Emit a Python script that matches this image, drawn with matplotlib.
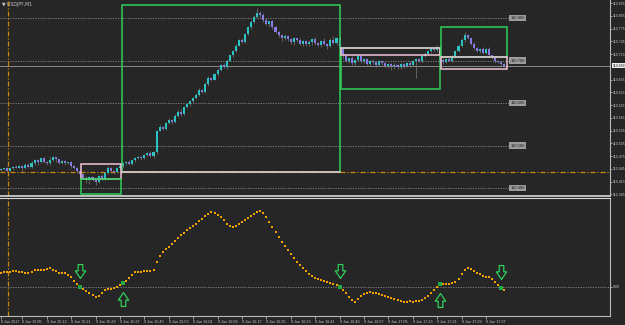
import matplotlib
matplotlib.use("Agg")
import matplotlib.pyplot as plt
from matplotlib.patches import Rectangle
from matplotlib.path import Path

# ---- data (USDJPY, M1, 9 Jun 2017) ----
closes = [
    110.445, 110.447, 110.441, 110.446,
    110.450, 110.448, 110.452, 110.446, 110.455, 110.449, 110.458,
    110.466, 110.461, 110.470, 110.462, 110.458, 110.465, 110.472, 110.468, 110.460, 110.464,
    110.458, 110.461, 110.452, 110.447, 110.440, 110.432,
    110.424, 110.418, 110.426, 110.421, 110.415, 110.428, 110.422,
    110.436, 110.448, 110.441, 110.438, 110.446, 110.452,
    110.458, 110.462, 110.456, 110.466, 110.470,
    110.474, 110.470, 110.478, 110.482, 110.476, 110.484,
    110.535,
    110.544, 110.540, 110.552, 110.561, 110.556,
    110.570, 110.578, 110.574, 110.590, 110.598, 110.604,
    110.612, 110.620, 110.630, 110.626, 110.645,
    110.660, 110.655, 110.668, 110.678, 110.690, 110.684, 110.700,
    110.712, 110.722, 110.735, 110.748, 110.744, 110.762,
    110.778, 110.790, 110.802, 110.812, 110.808, 110.795,
    110.786, 110.792, 110.778, 110.768, 110.760, 110.752,
    110.758, 110.750, 110.744, 110.752, 110.748, 110.740, 110.746, 110.738,
    110.744, 110.750, 110.742, 110.736, 110.746, 110.740, 110.734, 110.748, 110.742, 110.752, 110.730,
    110.712, 110.700, 110.706, 110.694, 110.702,
    110.710, 110.698, 110.704, 110.692, 110.700, 110.696, 110.690, 110.698, 110.694,
    110.688, 110.692, 110.686, 110.690, 110.684, 110.692, 110.688, 110.694, 110.690,
    110.698, 110.704, 110.700, 110.710, 110.716, 110.722, 110.728,
    110.724, 110.732, 110.702, 110.696, 110.704, 110.700, 110.710,
    110.722, 110.734, 110.748, 110.760, 110.752, 110.740, 110.730,
    110.722, 110.726, 110.718, 110.728, 110.712, 110.706,
    110.700, 110.696, 110.692, 110.688,
]
first_open = 110.443

# wicks in points of 0.001
wick_up = [
    2, 1, 3, 1, 2, 4, 1, 2, 3, 5,
    6, 2, 3, 1, 4, 2, 8, 3, 2, 1,
    2, 3, 1, 2, 1, 3, 2, 1, 4, 2,
    3, 1, 2, 6, 2, 3, 2, 1, 4, 2,
    3, 2, 4, 1, 3, 2, 1, 3, 2, 4,
    3, 2, 5, 2, 3, 4, 2, 3, 6, 9,
    2, 3, 4, 2, 3, 5, 2, 4, 3, 2,
    3, 5, 2, 3, 4, 2, 3, 5, 2, 4,
    3, 4, 6, 5, 12, 4, 3, 6, 2, 3,
    4, 2, 3, 5, 2, 4, 3, 2, 6, 3,
    2, 4, 3, 5, 2, 3, 6, 2, 4, 9,
    3, 5, 2, 3, 1, 4, 2, 3, 5, 2,
    3, 2, 4, 2, 3, 1, 2, 3, 2, 4,
    2, 3, 1, 2, 4, 3, 2, 3, 2, 4,
    3, 2, 4, 5, 2, 3, 2, 4, 3, 2,
    5, 4, 8, 3, 2, 4, 2, 3, 5, 2,
    3, 2, 4, 2, 3, 2,
]
wick_dn = [
    3, 2, 4, 2, 3, 1, 2, 5, 2, 3,
    2, 4, 8, 3, 2, 5, 3, 2, 6, 4,
    3, 5, 2, 6, 3, 4, 5, 3, 6, 8,
    4, 9, 3, 2, 4, 3, 2, 5, 3, 2,
    4, 3, 2, 3, 4, 2, 3, 2, 3, 4,
    6, 3, 2, 4, 3, 2, 5, 3, 2, 4,
    3, 2, 4, 3, 2, 4, 3, 2, 5, 3,
    2, 4, 3, 2, 3, 2, 4, 3, 2, 3,
    2, 3, 4, 2, 3, 5, 4, 3, 6, 4,
    3, 5, 6, 4, 3, 5, 8, 4, 3, 6,
    5, 4, 8, 6, 3, 5, 4, 7, 3, 4,
    6, 4, 8, 3, 5, 4, 6, 3, 5, 4,
    3, 5, 4, 6, 3, 5, 4, 6, 8, 5,
    4, 3, 5, 4, 6, 3, 40, 4, 3, 2,
    3, 4, 2, 3, 5, 4, 3, 2, 4, 3,
    2, 3, 4, 2, 3, 5, 3, 4, 2, 3,
    4, 3, 5, 3, 4, 3,
]

osc = [
    1.4, 1.5, 1.5, 1.5, 1.6, 1.6, 1.5, 1.5, 1.4, 1.4,
    1.5, 1.7, 1.7, 1.7, 1.7, 1.8, 1.9, 1.7, 1.6, 1.4,
    1.4, 1.4, 1.2, 1.0, 0.6, 0.3, 0.0, -0.2, -0.4, -0.6,
    -0.8, -1.0, -0.9, -0.6, -0.3, -0.2, -0.2, -0.1, 0.0, 0.2,
    0.4, 0.6, 0.9, 1.2, 1.5, 1.5, 1.5, 1.6, 1.6, 1.6,
    1.7, 2.5, 3.1, 3.5, 3.8, 4.0, 4.3, 4.6, 4.9, 5.2,
    5.4, 5.7, 5.9, 6.1, 6.3, 6.6, 6.8, 7.1, 7.3, 7.5,
    7.4, 7.2, 7.0, 6.7, 6.3, 6.1, 6.0, 6.1, 6.3, 6.5,
    6.7, 6.9, 7.1, 7.3, 7.5, 7.6, 7.4, 7.0, 6.5, 6.0,
    5.5, 5.0, 4.5, 4.1, 3.7, 3.3, 2.9, 2.5, 2.2, 1.9,
    1.6, 1.3, 1.1, 0.9, 0.8, 0.7, 0.6, 0.5, 0.4, 0.3,
    0.2, 0.0, -0.3, -0.6, -1.0, -1.3, -1.5, -1.2, -0.9, -0.7,
    -0.6, -0.5, -0.6, -0.6, -0.7, -0.8, -0.9, -1.0, -1.1, -1.2,
    -1.3, -1.4, -1.5, -1.5, -1.4, -1.5, -1.4, -1.4, -1.3, -1.1,
    -0.9, -0.6, -0.3, 0.0, 0.3, 0.3, 0.3, 0.3, 0.4, 0.5,
    0.8, 1.3, 1.7, 1.9, 1.8, 1.6, 1.4, 1.3, 1.1, 1.0,
    1.0, 0.8, 0.5, 0.2, -0.1, -0.3,
]
signal_idx = [26, 40, 111, 144, 164]
signal_dir = ["down", "up", "down", "up", "down"]

# 110.685 sits under the bid label, so it is left out
price_ticks = [110.835, 110.805, 110.775, 110.745, 110.715, 110.655, 110.625,
               110.595, 110.565, 110.535, 110.505, 110.475, 110.445, 110.415, 110.385]
hline_levels = [110.800, 110.700, 110.600, 110.500, 110.400]
orange_level = 110.438
marker_idx = 2.3

time_idx = [0] + list(range(7, 160, 8))
time_labels = ["9 Jun 2017", "9 Jun 15:05", "9 Jun 15:13", "9 Jun 15:21", "9 Jun 15:29",
               "9 Jun 15:37", "9 Jun 15:45", "9 Jun 15:53", "9 Jun 16:01", "9 Jun 16:09",
               "9 Jun 16:17", "9 Jun 16:25", "9 Jun 16:33", "9 Jun 16:41", "9 Jun 16:49",
               "9 Jun 16:57", "9 Jun 17:05", "9 Jun 17:13", "9 Jun 17:21", "9 Jun 17:29",
               "9 Jun 17:37"]

# boxes drawn on the chart: (start idx, end idx, top, bottom, colour)
boxes = [
    (39.7, 111.1, 110.831, 110.438, "green"),
    (26.2, 39.3, 110.456, 110.421, "pink"),
    (26.2, 39.3, 110.421, 110.386, "green"),
    (111.5, 143.9, 110.729, 110.633, "green"),
    (111.5, 143.9, 110.729, 110.713, "pink"),
    (144.3, 165.9, 110.779, 110.708, "green"),
    (144.3, 165.9, 110.708, 110.680, "pink"),
]
pink_lines = [(39.7, 111.1, 110.438)]

BG = "#262626"
FG = "#c8c8c8"
GREEN = "#2fcf5a"
PINK = "#f2c4da"
BULL = "#2cc3c3"
BEAR = "#8a7ae6"
WICK = "#7c7c7c"
ORANGE = "#f2a200"
colours = {"green": GREEN, "pink": PINK}
AXFONT = "Liberation Sans"

fig = plt.figure(figsize=(6.25, 3.25), dpi=100, facecolor=BG)
W, H = 625, 325
ax1 = fig.add_axes([0, 1 - 196 / H, 610 / W, 196 / H], facecolor=BG)
ax2 = fig.add_axes([0, 1 - 316 / H, 610 / W, (316 - 198) / H], facecolor=BG)
xlim = (-1 / 3.05, 609 / 3.05)

# ---- candles ----
opens = [first_open] + closes[:-1]
for i, (o, c) in enumerate(zip(opens, closes)):
    hi = max(o, c) + wick_up[i] * 0.001
    lo = min(o, c) - wick_dn[i] * 0.001
    ax1.vlines(i, lo, hi, color=WICK, lw=0.5, zorder=2)
    col = BULL if c >= o else BEAR
    h = max(abs(c - o), 0.0012)
    ax1.bar(i, h, bottom=min(o, c), width=0.66, color=col, lw=0, zorder=3)

for lvl in hline_levels:
    ax1.plot([xlim[0], 166.9], [lvl, lvl], color="#8a8a8a", lw=0.6,
             ls=(0, (1.5, 1.5)), zorder=1)
    ax1.text(167.0, lvl, f"{lvl:.3f}", fontsize=3.0, color="#1e1e1e", va="center",
             ha="left", family=AXFONT,
             bbox=dict(boxstyle="square,pad=0.25", fc="#9c9c9c", ec="none"))

ax1.axhline(closes[-1], color="#9a9a9a", lw=0.6, zorder=1)
ax1.axhline(orange_level, color="#c7880c", lw=0.9, ls=(0, (4, 1.5, 1, 1.5)), zorder=1)
ax1.axvline(marker_idx, color="#c7880c", lw=0.9, ls=(0, (4, 1.5, 1, 1.5)), zorder=1)

for x0, x1, top, bot, c in boxes:
    ax1.add_patch(Rectangle((x0, bot), x1 - x0, top - bot, fill=False,
                            ec=colours[c], lw=1.1, zorder=4))
for x0, x1, y in pink_lines:
    ax1.plot([x0, x1], [y, y], color=PINK, lw=1.1, zorder=5)

ax1.set_xlim(*xlim)
ax1.set_ylim(110.3812, 110.8424)
ax1.set_xticks([])
ax1.yaxis.tick_right()
ax1.set_yticks(price_ticks)
ax1.set_yticklabels([f"{p:.3f}" for p in price_ticks], family=AXFONT)
ax1.tick_params(axis="y", labelsize=2.5, colors=FG, length=1.5, width=0.5, pad=0.5)
for s in ["left", "top"]:
    ax1.spines[s].set_visible(False)
ax1.spines["right"].set_color("#b8b8b8")
ax1.spines["bottom"].set_color("#d8d8d8")
ax1.spines["bottom"].set_linewidth(1.2)

# current bid label on the price scale
ax1.text(1.004, closes[-1], f"{closes[-1]:.3f}", fontsize=2.5, color="#1e1e1e",
         va="center", ha="left", family=AXFONT, clip_on=False,
         transform=ax1.get_yaxis_transform(),
         bbox=dict(boxstyle="square,pad=0.25", fc="#f0f0f0", ec="none"), zorder=6)
ax1.text(0.004, 0.99, "\u25bc USDJPY,M1", transform=ax1.transAxes, fontsize=3.3,
         color=FG, va="top", ha="left")

# ---- oscillator ----
idx = list(range(len(osc)))
ax2.axhline(0, color="#8a8a8a", lw=0.6, ls=(0, (1.5, 1.5)), zorder=1)
ax2.axvline(marker_idx, color="#c7880c", lw=0.9, ls=(0, (4, 1.5, 1, 1.5)), zorder=1)
ax2.plot(idx, osc, ls="none", marker="s", ms=1.9, color=ORANGE, mew=0, zorder=3)
ax2.plot(signal_idx, [osc[i] for i in signal_idx], ls="none", marker="s", ms=2.2,
         color="#22aa44", mew=0, zorder=4)

down = Path([(-0.33, 1), (0.33, 1), (0.33, 0.1), (0.75, 0.1), (0, -1),
             (-0.75, 0.1), (-0.33, 0.1), (-0.33, 1)], closed=True)
up = Path([(x, -y) for x, y in down.vertices], closed=True)
for i, d in zip(signal_idx, signal_dir):
    y = osc[i] + (1.6 if d == "down" else -1.6)
    ax2.plot([i], [y], ls="none", marker=down if d == "down" else up, ms=10,
             mfc="none", mec=GREEN, mew=0.9, zorder=5)

ax2.set_xlim(*xlim)
ax2.set_ylim(-2.9, 8.9)
ax2.yaxis.tick_right()
ax2.set_yticks([0])
ax2.set_yticklabels(["0.00"], family=AXFONT)
ax2.tick_params(axis="y", labelsize=2.5, colors=FG, length=1.5, width=0.5, pad=0.5)
ax2.set_xticks(time_idx)
ax2.set_xticklabels(time_labels, family=AXFONT)
ax2.tick_params(axis="x", labelsize=2.7, colors=FG, length=2, width=0.5, pad=0.8)
for lbl in ax2.get_xticklabels():
    lbl.set_ha("left")
ax2.spines["left"].set_visible(False)
ax2.spines["right"].set_color("#b8b8b8")
ax2.spines["top"].set_color("#d8d8d8")
ax2.spines["top"].set_linewidth(0.8)
ax2.spines["bottom"].set_color("#b8b8b8")

fig.savefig("out.png", dpi=100, facecolor=BG)
